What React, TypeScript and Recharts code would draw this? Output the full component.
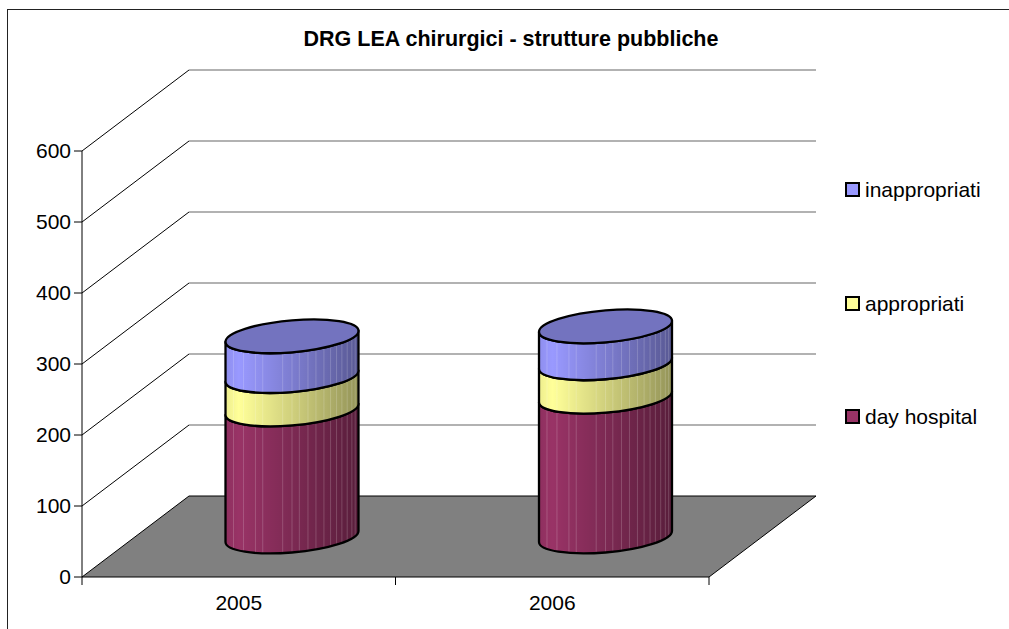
import React from 'react';
import { BarChart, Bar, XAxis, YAxis, Legend, ReferenceLine } from 'recharts';

const FONT = '"Liberation Sans", Arial, sans-serif';

const years = ['2005', '2006'];
const dayHospital = [179, 197];
const appropriati = [47, 47];
const inappropriati = [56, 52];
const yTicks = [0, 100, 200, 300, 400, 500, 600];

const data = years.map((year, i) => ({
  year,
  dayHospital: dayHospital[i],
  appropriati: appropriati[i],
  inappropriati: inappropriati[i],
}));

// fake 3D: how far the back wall sits from the front plane
const DEPTH_X = 107;
const DEPTH_Y = 81;
// the cylinders stand in the middle of the floor
const BAR_DX = DEPTH_X / 2;
const BAR_DY = DEPTH_Y / 2;
const ELLIPSE_RY = 16;
const ELLIPSE_TILT = 5.5;

// light vertical strips left by the excel gradient banding
const STRIPES = [-0.88, -0.73, -0.55, -0.44, -0.14, 0, 0.11, 0.24, 0.36, 0.48, 0.58, 0.67, 0.75, 0.83, 0.9, 0.95];

const Cylinder = (props: any) => {
  const { x, y, width, height, fill, capFill } = props;
  const a = width / 2;
  const b = ELLIPSE_RY;
  const top = y - BAR_DY;
  const bottom = y + height - BAR_DY;
  const side = `M${-a} ${top} A${a} ${b} 0 0 0 ${a} ${top} L${a} ${bottom} A${a} ${b} 0 0 1 ${-a} ${bottom} Z`;
  return (
    <g transform={`matrix(1 ${-ELLIPSE_TILT / a} 0 1 ${x + a + BAR_DX} 0)`}>
      <path d={side} fill={fill} />
      <path d={side} fill="url(#cylShade)" />
      {STRIPES.map((f) => {
        const dy = b * Math.sqrt(1 - f * f);
        return (
          <line
            key={f}
            x1={f * a}
            x2={f * a}
            y1={top + dy}
            y2={bottom + dy}
            stroke="#fff"
            strokeOpacity={0.18}
            strokeWidth={1}
          />
        );
      })}
      <path d={side} fill="none" stroke="#000" strokeWidth={2.3} strokeLinejoin="round" />
      {capFill && <ellipse cx={0} cy={top} rx={a} ry={b} fill={capFill} stroke="#000" strokeWidth={2.3} />}
    </g>
  );
};

const WallLine = ({ x1, x2, y1 }: any) => (
  <g>
    <line x1={x1} y1={y1} x2={x1 + DEPTH_X} y2={y1 - DEPTH_Y} stroke="#000" strokeWidth={1} />
    <line x1={x1 + DEPTH_X} y1={y1 - DEPTH_Y} x2={x2 + DEPTH_X} y2={y1 - DEPTH_Y} stroke="#666" strokeWidth={1.2} />
  </g>
);

const Floor = ({ x1, x2, y1 }: any) => (
  <g>
    <polygon
      points={`${x1},${y1} ${x1 + DEPTH_X},${y1 - DEPTH_Y} ${x2 + DEPTH_X},${y1 - DEPTH_Y} ${x2},${y1}`}
      fill="#808080"
      stroke="#000"
      strokeWidth={1}
    />
    {[x1, (x1 + x2) / 2, x2].map((tx) => (
      <line key={tx} x1={tx} x2={tx} y1={y1} y2={y1 + 8} stroke="#000" strokeWidth={1} />
    ))}
  </g>
);

const LEGEND_ITEMS = [
  { name: 'inappropriati', color: '#9999FF' },
  { name: 'appropriati', color: '#FFFF99' },
  { name: 'day hospital', color: '#993366' },
];

const renderLegend = () => (
  <div style={{ position: 'relative', width: 160, height: 260 }}>
    {LEGEND_ITEMS.map((item, i) => (
      <div
        key={item.name}
        style={{
          position: 'absolute',
          top: i * 113.5,
          left: 0,
          height: 24,
          display: 'flex',
          alignItems: 'center',
          whiteSpace: 'nowrap',
          fontFamily: FONT,
          fontSize: 21,
          color: '#000',
        }}
      >
        <span
          style={{
            display: 'inline-block',
            boxSizing: 'border-box',
            width: 15,
            height: 15,
            marginRight: 5,
            marginBottom: 1,
            background: item.color,
            border: '2.5px solid #000',
          }}
        />
        {item.name}
      </div>
    ))}
  </div>
);

export default function App() {
  return (
    <div style={{ position: 'absolute', left: 0, top: 0, width: 1009, height: 629, overflow: 'hidden', background: '#fff' }}>
      <div
        style={{
          position: 'absolute',
          left: 7,
          top: 9,
          right: 0,
          bottom: 0,
          borderTop: '1.5px solid #222',
          borderLeft: '1.5px solid #222',
        }}
      />
      <BarChart
        width={1009}
        height={629}
        data={data}
        margin={{ top: 151, right: 300, bottom: 0, left: 0 }}
        barSize={133}
        style={{ position: 'absolute', left: 0, top: 0 }}
      >
        <defs>
          <linearGradient id="cylShade" x1="0" y1="0" x2="1" y2="0">
            <stop offset="0" stopColor="#000" stopOpacity={0.07} />
            <stop offset="0.1" stopColor="#000" stopOpacity={0} />
            <stop offset="1" stopColor="#000" stopOpacity={0.42} />
          </linearGradient>
        </defs>
        <text x={511} y={46} textAnchor="middle" fontFamily={FONT} fontSize={21.5} fontWeight="bold" fill="#000">
          DRG LEA chirurgici - strutture pubbliche
        </text>
        <XAxis
          dataKey="year"
          height={52}
          axisLine={false}
          tickLine={false}
          tickMargin={12}
          tick={{ fontFamily: FONT, fontSize: 21, fill: '#000' }}
        />
        <YAxis
          width={82}
          domain={[0, 600]}
          ticks={yTicks}
          interval={0}
          tickSize={8}
          tickMargin={3}
          axisLine={{ stroke: '#000', strokeOpacity: 1 }}
          tickLine={{ stroke: '#000', strokeOpacity: 1 }}
          tick={{ fontFamily: FONT, fontSize: 21, fill: '#000' }}
        />
        <ReferenceLine y={0} shape={Floor} zIndex={-60} />
        {yTicks.slice(1).map((v) => (
          <ReferenceLine key={v} y={v} shape={WallLine} zIndex={-60} />
        ))}
        <Legend
          layout="vertical"
          align="center"
          verticalAlign="middle"
          content={renderLegend}
          wrapperStyle={{ position: 'absolute', left: 845, top: 178, width: 160, height: 260 }}
        />
        <Bar dataKey="dayHospital" name="day hospital" stackId="a" fill="#993366" isAnimationActive={false} shape={Cylinder} />
        <Bar dataKey="appropriati" name="appropriati" stackId="a" fill="#FFFF99" isAnimationActive={false} shape={Cylinder} />
        <Bar
          dataKey="inappropriati"
          name="inappropriati"
          stackId="a"
          fill="#9999FF"
          isAnimationActive={false}
          shape={(props: any) => <Cylinder {...props} capFill="#7373BF" />}
        />
      </BarChart>
    </div>
  );
}
